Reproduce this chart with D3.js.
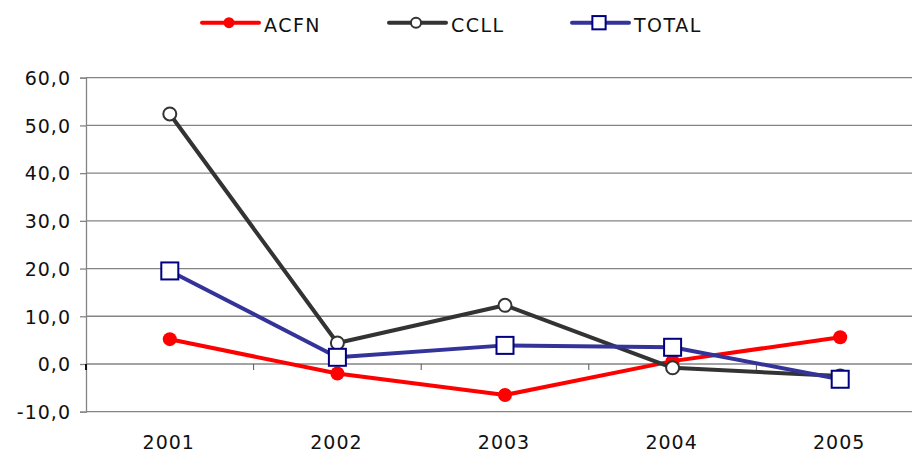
<!DOCTYPE html>
<html>
<head>
<meta charset="utf-8">
<script src="https://cdn.jsdelivr.net/npm/d3@7"></script>
<style>
  html, body { margin: 0; padding: 0; background: #fff; }
  svg { display: block; }
  text { font-family: "DejaVu Sans", Verdana, sans-serif; fill: #111; }
</style>
</head>
<body>
<svg id="chart" width="912" height="452"></svg>
<script>
const categories = ["2001", "2002", "2003", "2004", "2005"];
const acfn  = [5.2, -2.0, -6.5, 0.6, 5.6];
const ccll  = [52.4, 4.4, 12.3, -0.8, -2.5];
const total = [19.5, 1.4, 3.9, 3.5, -3.2];
const yTicks = [-10, 0, 10, 20, 30, 40, 50, 60];
const seriesNames = ["ACFN", "CCLL", "TOTAL"];

const svg = d3.select("#chart");
const plotLeft = 86, plotRight = 924, plotTop = 77.7, plotBottom = 411.7, gridRight = 912;

const x = d3.scaleBand().domain(categories).range([plotLeft, plotRight]).padding(0);
const y = d3.scaleLinear().domain([-10, 60]).range([plotBottom, plotTop]);
const loc = d3.formatLocale({decimal: ",", thousands: ".", grouping: [3], currency: ["", "€"], minus: "-"});
const fmt = loc.format(".1f");

// gridlines
svg.append("g").selectAll("line").data(yTicks).join("line")
  .attr("x1", plotLeft).attr("x2", gridRight)
  .attr("y1", d => y(d)).attr("y2", d => y(d))
  .attr("stroke", "#848484").attr("stroke-width", 1.3);

// y axis
const yAxis = svg.append("g").attr("transform", `translate(${plotLeft},0)`)
  .call(d3.axisLeft(y).tickValues(yTicks).tickFormat(fmt).tickSize(6).tickPadding(9));
yAxis.select(".domain").attr("stroke", "#848484").attr("stroke-width", 1.3);
yAxis.selectAll(".tick line").attr("stroke", "#848484").attr("stroke-width", 1.3);
yAxis.selectAll("text").style("font-size", "19px").style("letter-spacing", "1px")
  .attr("fill", "#111").attr("dy", "0.36em");

// x axis at zero
const xAxis = svg.append("g").attr("transform", `translate(0,${y(0)})`)
  .call(d3.axisBottom(x).tickSize(0).tickFormat(""));
xAxis.select(".domain").remove();
const bounds = categories.map(c => x(c)).concat([x(categories[categories.length-1]) + x.bandwidth()]);
svg.append("g").selectAll("line").data(bounds).join("line")
  .attr("x1", d => d).attr("x2", d => d)
  .attr("y1", y(0)).attr("y2", y(0) + 6)
  .attr("stroke", d => d === plotLeft ? "#111" : "#555").attr("stroke-width", d => d === plotLeft ? 2 : 1);

// x labels
svg.append("g").selectAll("text").data(categories).join("text")
  .attr("x", d => x(d) + x.bandwidth() / 2 - 1).attr("y", 449)
  .attr("text-anchor", "middle")
  .style("font-size", "19px").style("letter-spacing", "1px")
  .text(d => d);

const cx = d => x(d) + x.bandwidth() / 2;
const line = d3.line().x(d => cx(d.c)).y(d => y(d.v));

const series = [
  {name: seriesNames[0], values: acfn, color: "#FF0000", marker: "dot"},
  {name: seriesNames[1], values: ccll, color: "#333333", marker: "circle"},
  {name: seriesNames[2], values: total, color: "#333399", marker: "square"}
];

function drawMarker(g, type, px, py, scale) {
  const s = scale || 1;
  if (type === "dot") {
    g.append("circle").attr("cx", px).attr("cy", py).attr("r", 7 * s).attr("fill", "#FF0000");
  } else if (type === "circle") {
    g.append("circle").attr("cx", px).attr("cy", py).attr("r", 6.5 * s)
      .attr("fill", "#fff").attr("stroke", "#333333").attr("stroke-width", 2);
  } else {
    const h = 8.5 * s;
    g.append("rect").attr("x", px - h).attr("y", py - h).attr("width", 2 * h).attr("height", 2 * h)
      .attr("fill", "#fff").attr("stroke", "#000080").attr("stroke-width", 2);
  }
}

series.forEach(s => {
  const data = categories.map((c, i) => ({c, v: s.values[i]}));
  const g = svg.append("g");
  g.append("path").datum(data).attr("d", line)
    .attr("fill", "none").attr("stroke", s.color).attr("stroke-width", 4)
    .attr("stroke-linejoin", "round");
  data.forEach(d => drawMarker(g, s.marker, cx(d.c), y(d.v)));
});

// legend
const legendX = [202, 389, 572];
const ly = 22.7;
series.forEach((s, i) => {
  const g = svg.append("g");
  const x0 = legendX[i];
  g.append("line").attr("x1", x0).attr("x2", x0 + 57).attr("y1", ly).attr("y2", ly)
    .attr("stroke", s.color).attr("stroke-width", 4).attr("stroke-linecap", "round");
  drawMarker(g, s.marker, x0 + 27, ly, 0.78);
  g.append("text").attr("x", x0 + 62).attr("y", ly + 9)
    .style("font-size", "19px").style("letter-spacing", "1.5px")
    .text(s.name);
});
</script>
</body>
</html>
